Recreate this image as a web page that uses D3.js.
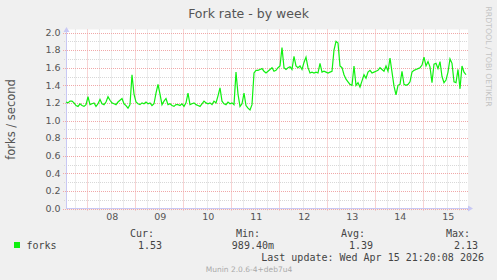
<!DOCTYPE html>
<html><head><meta charset="utf-8">
<script src="https://cdn.jsdelivr.net/npm/d3@7"></script>
<style>html,body{margin:0;padding:0;background:#f0f0f0;}svg{display:block;}</style>
</head><body>
<svg id="c" width="497" height="280"></svg>
<script>
const title = "Fork rate - by week";
const yLabel = "forks / second";
const seriesName = "forks";
const startTime = Date.UTC(2026, 3, 7, 13, 20);
const endTime = Date.UTC(2026, 3, 15, 21, 20);
const stepHours = 1;
const forks = [
1.21,1.20,1.22,1.22,1.20,1.17,1.16,1.19,1.17,1.16,
1.18,1.27,1.18,1.19,1.20,1.16,1.19,1.24,1.19,1.18,
1.21,1.27,1.23,1.20,1.19,1.18,1.21,1.23,1.25,1.19,
1.17,1.14,1.18,1.52,1.30,1.21,1.19,1.18,1.20,1.19,
1.21,1.19,1.20,1.17,1.19,1.31,1.41,1.30,1.18,1.22,
1.25,1.18,1.19,1.17,1.16,1.18,1.18,1.17,1.19,1.16,
1.20,1.31,1.18,1.19,1.20,1.18,1.17,1.16,1.19,1.22,
1.20,1.19,1.20,1.18,1.22,1.20,1.28,1.37,1.22,1.19,
1.18,1.21,1.19,1.20,1.18,1.55,1.30,1.16,1.19,1.31,
1.17,1.14,1.12,1.18,1.54,1.57,1.57,1.58,1.59,1.56,
1.54,1.56,1.58,1.60,1.56,1.57,1.60,1.62,1.83,1.60,
1.58,1.60,1.61,1.58,1.73,1.62,1.60,1.62,1.58,1.66,
1.72,1.60,1.54,1.55,1.54,1.55,1.54,1.65,1.55,1.56,
1.55,1.54,1.55,1.56,1.80,1.90,1.88,1.62,1.60,1.52,
1.47,1.44,1.41,1.40,1.62,1.40,1.43,1.38,1.45,1.52,
1.48,1.55,1.57,1.54,1.55,1.56,1.57,1.60,1.58,1.56,
1.62,1.56,1.71,1.55,1.39,1.29,1.40,1.41,1.56,1.41,
1.40,1.41,1.44,1.55,1.57,1.58,1.59,1.60,1.63,1.72,
1.62,1.67,1.61,1.43,1.64,1.65,1.59,1.67,1.50,1.43,
1.46,1.55,1.70,1.65,1.44,1.43,1.58,1.36,1.62,1.55,
1.52];
const yTicks = [0.0,0.2,0.4,0.6,0.8,1.0,1.2,1.4,1.6,1.8,2.0];
const yMinor = [0.1,0.3,0.5,0.7,0.9,1.1,1.3,1.5,1.7,1.9];
const legendHeads = ["Cur:","Min:","Avg:","Max:"];
const legendVals = ["1.53","989.40m","1.39","2.13"];
const lastUpdate = "Last update: Wed Apr 15 21:20:08 2026";
const footer = "Munin 2.0.6-4+deb7u4";
const watermark = "RRDTOOL / TOBI OETIKER";

const svg = d3.select("#c");
const x = d3.scaleUtc().domain([startTime, endTime]).range([66, 466]);
const y = d3.scaleLinear().domain([0, 2]).range([208.5, 32.5]);
const L = 66, R = 468, T = 29.5, B = 208.5;
const sans = "DejaVu Sans", mono = "DejaVu Sans Mono";

svg.append("rect").attr("x", L).attr("y", T).attr("width", R - L).attr("height", B - T).attr("fill", "#fff");

// minor grid
const hours6 = d3.utcHour.every(6).range(new Date(startTime), new Date(endTime + 2*3600e3)).filter(d => d.getUTCHours() !== 0);
svg.append("g").selectAll("line").data(hours6).join("line")
  .attr("x1", d => Math.round(x(d)) + 0.5).attr("x2", d => Math.round(x(d)) + 0.5)
  .attr("y1", T).attr("y2", B + 2).attr("stroke", "#d8d8d8").attr("stroke-dasharray", "1,1");
svg.append("g").selectAll("line").data(yMinor).join("line")
  .attr("x1", L - 2).attr("x2", R).attr("y1", d => Math.round(y(d)) + 0.5).attr("y2", d => Math.round(y(d)) + 0.5)
  .attr("stroke", "#d8d8d8").attr("stroke-dasharray", "1,1");
// major grid
const days = d3.utcDay.range(new Date(startTime), new Date(endTime + 2*3600e3));
svg.append("g").selectAll("line").data(days).join("line")
  .attr("x1", d => Math.round(x(d)) + 0.5).attr("x2", d => Math.round(x(d)) + 0.5)
  .attr("y1", T).attr("y2", B + 3).attr("stroke", "#f0a8a8").attr("stroke-dasharray", "1,1");
svg.append("g").selectAll("line").data(yTicks).join("line")
  .attr("x1", L - 3).attr("x2", R).attr("y1", d => Math.round(y(d)) + 0.5).attr("y2", d => Math.round(y(d)) + 0.5)
  .attr("stroke", "#f0a8a8").attr("stroke-dasharray", "1,1");

// axes
const axisCol = "#c8c8f4";
svg.append("line").attr("x1", L + 0.5).attr("x2", L + 0.5).attr("y1", B).attr("y2", 30).attr("stroke", axisCol);
svg.append("line").attr("x1", L).attr("x2", 469).attr("y1", B).attr("y2", B).attr("stroke", axisCol);
svg.append("path").attr("d", `M${L-2.5},32 L${L+3.5},32 L${L+0.5},27 Z`).attr("fill", axisCol);
svg.append("path").attr("d", `M468,${B-3} L468,${B+3} L473,${B} Z`).attr("fill", axisCol);

// y tick labels
svg.append("g").selectAll("text").data(yTicks).join("text")
  .attr("x", 60.5).attr("y", d => y(d)).attr("dy", "0.35em").attr("text-anchor", "end")
  .attr("font-family", sans).attr("font-size", "9.5px").attr("fill", "#555")
  .text(d => d.toFixed(1));
// x labels at noon
const noons = days.map(d => new Date(+d + 12*3600e3)).filter(d => +d <= endTime);
svg.append("g").selectAll("text").data(noons).join("text")
  .attr("x", d => x(d) + 1).attr("y", 219.5).attr("text-anchor", "middle")
  .attr("font-family", sans).attr("font-size", "9.5px").attr("fill", "#555")
  .text(d3.utcFormat("%d"));

// line
const line = d3.line().x((d, i) => x(startTime + i * stepHours * 3600e3)).y(d => y(d));
svg.append("path").datum(forks).attr("d", line).attr("fill", "none").attr("stroke", "#10f010").attr("stroke-width", 1.2);

// title, labels
svg.append("text").attr("x", 248.5).attr("y", 17.5).attr("text-anchor", "middle")
  .attr("font-family", sans).attr("font-size", "12.5px").attr("fill", "#555").text(title);
svg.append("text").attr("transform", "translate(15,119.5) rotate(-90)").attr("text-anchor", "middle")
  .attr("font-family", sans).attr("font-size", "11.5px").attr("fill", "#555").text(yLabel);
svg.append("text").attr("transform", "translate(486,56.5) rotate(90)").attr("text-anchor", "middle")
  .attr("font-family", sans).attr("font-size", "7.8px").attr("fill", "#c4c4c4").text(watermark);

// legend
svg.append("rect").attr("x", 14).attr("y", 242).attr("width", 6).attr("height", 6).attr("fill", "#10f010");
svg.append("text").attr("x", 26.5).attr("y", 249).attr("font-family", mono).attr("font-size", "10px").attr("fill", "#444").text(seriesName);
const headRight = [154, 260, 365, 470];
const valRight = [162, 274, 373, 478];
svg.append("g").selectAll("text").data(legendHeads).join("text")
  .attr("x", (d, i) => headRight[i]).attr("y", 237).attr("text-anchor", "end")
  .attr("font-family", mono).attr("font-size", "10px").attr("fill", "#444").text(d => d);
svg.append("g").selectAll("text").data(legendVals).join("text")
  .attr("x", (d, i) => valRight[i]).attr("y", 249).attr("text-anchor", "end")
  .attr("font-family", mono).attr("font-size", "10px").attr("fill", "#444").text(d => d);
svg.append("text").attr("x", 484).attr("y", 260.5).attr("text-anchor", "end")
  .attr("font-family", mono).attr("font-size", "10px").attr("fill", "#444").text(lastUpdate);
svg.append("text").attr("x", 249).attr("y", 272).attr("text-anchor", "middle")
  .attr("font-family", sans).attr("font-size", "7.5px").attr("fill", "#aaa").text(footer);
</script>
</body></html>
